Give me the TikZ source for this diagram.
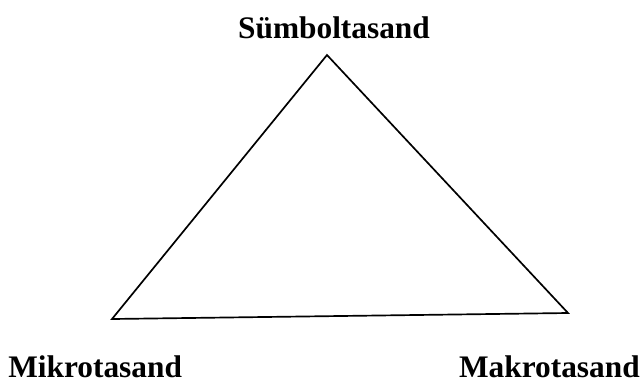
\documentclass[tikz,border=0pt]{standalone}
\usepackage{fontspec}
\setmainfont{Liberation Serif}
\usetikzlibrary{positioning}
\tikzset{tasand/.style={font=\fontsize{22.3}{26}\selectfont\bfseries,inner sep=0pt}}

\begin{document}
\begin{tikzpicture}[x=0.025cm,y=-0.025cm]
\useasboundingbox (0,0) rectangle (643,383);
\coordinate (top) at (327,55);
\coordinate (left) at (112,319);
\coordinate (right) at (568,313);
\draw[line width=1.2pt,line join=miter] (top) -- (right) -- (left) -- cycle;
\node[tasand,anchor=base] (symbol) at (334,38) {Sümboltasand};
\node[tasand,anchor=base west] (mikro) at (8,377) {Mikrotasand};
\node[tasand,anchor=base east] (makro) at (640,377) {Makrotasand};
\end{tikzpicture}
\end{document}
